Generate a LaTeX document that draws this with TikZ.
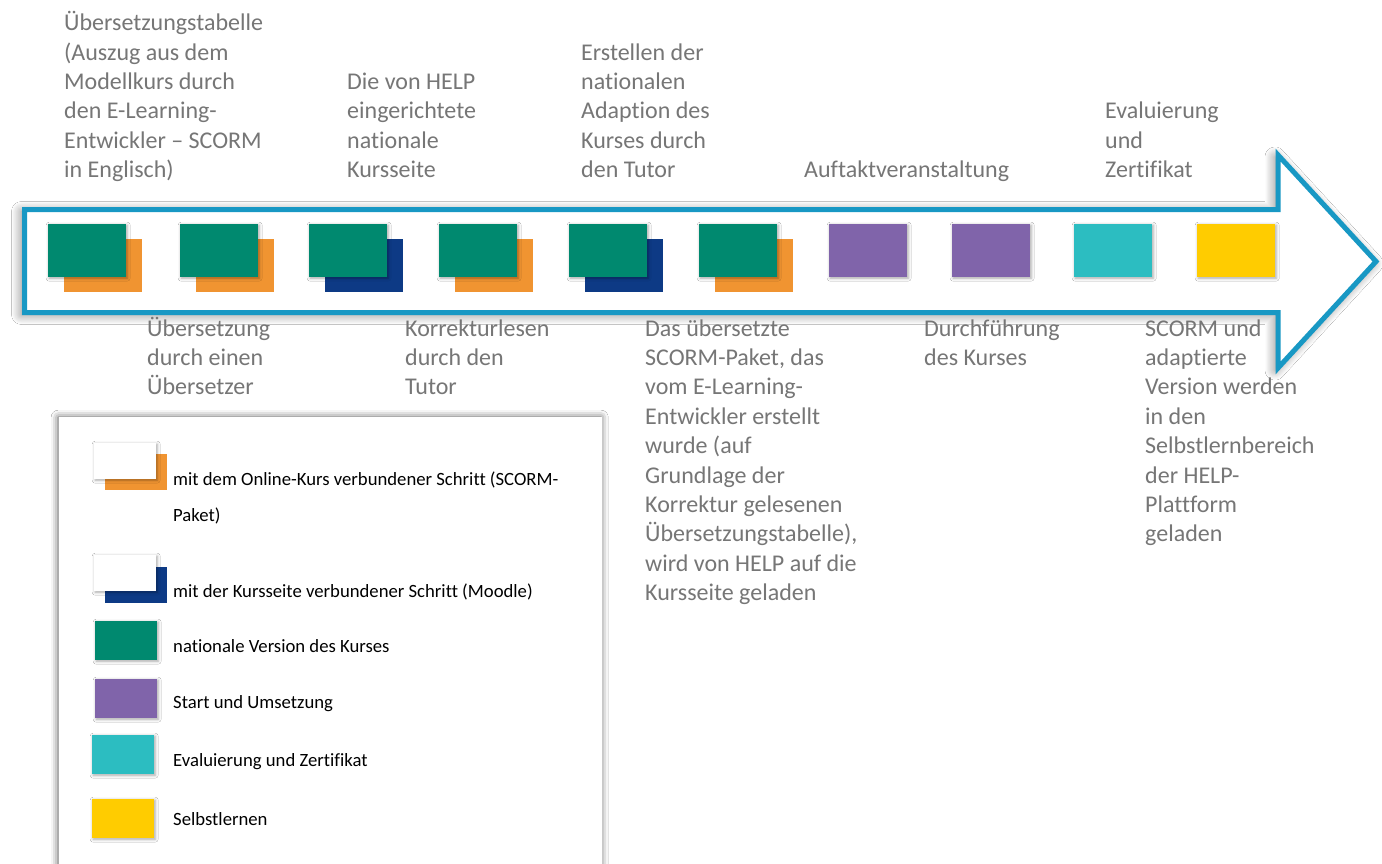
\documentclass[tikz,border=0pt]{standalone}
\usepackage{fontspec}
\setmainfont{Carlito}[Ligatures={TeX,NoCommon}]
\usetikzlibrary{shadows.blur}

\definecolor{stepgreen}{RGB}{0,137,111}
\definecolor{steporange}{RGB}{240,148,49}
\definecolor{stepblue}{RGB}{13,58,133}
\definecolor{steppurple}{RGB}{128,100,170}
\definecolor{stepcyan}{RGB}{44,189,193}
\definecolor{stepyellow}{RGB}{255,204,0}
\definecolor{arrowblue}{RGB}{24,152,196}
\definecolor{txtgray}{RGB}{118,118,118}

\begin{document}
\begin{tikzpicture}[x=1pt,y=-1pt,
  lbl/.style={text=txtgray, font=\fontsize{24}{29.4}\selectfont, align=left, inner sep=0pt},
  leg/.style={text=black, font=\fontsize{18.7}{36}\selectfont, align=left, inner sep=0pt, anchor=base west},
  card/.style={minimum width=78pt, minimum height=53pt, inner sep=0pt, anchor=north west, draw=none},
  swatch/.style={minimum width=62pt, minimum height=36pt, inner sep=0pt, anchor=north west, draw=none},
  glow/.style={blur shadow={shadow xshift=1pt, shadow yshift=-1pt, shadow blur radius=3pt, shadow opacity=35}},
]
% page area
\fill[white] (0,0) rectangle (1382,864);
\useasboundingbox (0,0) rectangle (1382,864);

% timeline arrow
\draw[line width=5pt, draw=arrowblue, fill=white, line join=miter,
      blur shadow={shadow xshift=-3pt, shadow yshift=-2pt, shadow blur radius=10pt, shadow blur steps=12, shadow opacity=50}]
  (24.5,209.5) -- (1278,209.5) -- (1278,155) -- (1376,261.5) -- (1278,368)
  -- (1278,312.5) -- (24.5,312.5) -- cycle;

% steps of the national version (with their SCORM / Moodle layer behind)
\foreach \x/\c [count=\i] in {48/steporange,180/steporange,309/stepblue,439/steporange,569/stepblue,699/steporange}{
  \node[card, fill=\c] (back\i) at (\x+16,239) {};
  \node[card, fill=stepgreen, glow] (front\i) at (\x,224) {};
}
\node[card, fill=steppurple, glow] (front7) at (829,224) {};
\node[card, fill=steppurple, glow] (front8) at (952,224) {};
\node[card, fill=stepcyan, glow] (front9) at (1074,224) {};
\node[card, fill=stepyellow, glow] (front10) at (1197,224) {};

% labels above the arrow
\node[lbl, anchor=south west] (top1) at (64,186.8)
  {Übersetzungstabelle\\(Auszug aus dem\\Modellkurs durch\\den E-Learning-\\Entwickler – SCORM\\in Englisch)\strut};
\node[lbl, anchor=south west] (top2) at (347,186.8)
  {Die von HELP\\eingerichtete\\nationale\\Kursseite\strut};
\node[lbl, anchor=south west] (top3) at (581,186.8)
  {Erstellen der\\nationalen\\Adaption des\\Kurses durch\\den Tutor\strut};
\node[lbl, anchor=south west] (top4) at (804,186.8)
  {Auftaktveranstaltung\strut};
\node[lbl, anchor=south west] (top5) at (1105,186.8)
  {Evaluierung\\und\\Zertifikat\strut};

% labels below the arrow
\node[lbl, anchor=north west] (bot1) at (147,315.4)
  {\strut Übersetzung\\durch einen\\Übersetzer};
\node[lbl, anchor=north west] (bot2) at (405,315.4)
  {\strut Korrekturlesen\\durch den\\Tutor};
\node[lbl, anchor=north west] (bot3) at (645,315.4)
  {\strut Das übersetzte\\SCORM-Paket, das\\vom E-Learning-\\Entwickler erstellt\\wurde (auf\\Grundlage der\\Korrektur gelesenen\\Übersetzungstabelle),\\wird von HELP auf die\\Kursseite geladen};
\node[lbl, anchor=north west] (bot4) at (924,315.4)
  {\strut Durchführung\\des Kurses};
\node[lbl, anchor=north west] (bot5) at (1145,315.4)
  {\strut SCORM und\\adaptierte\\Version werden\\in den\\Selbstlernbereich\\der HELP-\\Plattform\\geladen};

% legend
\node[fill=white, draw=none, minimum width=543pt, minimum height=470pt, inner sep=0pt, anchor=north west,
      blur shadow={shadow xshift=-1pt, shadow yshift=0pt, shadow blur radius=7pt, shadow opacity=65}]
  (legend) at (59,417) {};

\node[swatch, fill=steporange] (lgback1) at (105,454) {};
\node[swatch, fill=white, glow] (lgfront1) at (94,443) {};
\node[swatch, fill=stepblue] (lgback2) at (105,567) {};
\node[swatch, fill=white, glow] (lgfront2) at (94,555) {};
\node[swatch, minimum height=39pt, fill=stepgreen, glow] (lg3) at (95,621) {};
\node[swatch, minimum height=39pt, fill=steppurple, glow] (lg4) at (95,679) {};
\node[swatch, minimum height=39pt, fill=stepcyan, glow] (lg5) at (92,735) {};
\node[swatch, minimum height=39pt, fill=stepyellow, glow] (lg6) at (92,799) {};

\node[leg, anchor=north west] (lt1) at (173,459.8)
  {\strut mit dem Online-Kurs verbundener Schritt (SCORM-\\Paket)};
\node[leg] (lt2) at (173,597) {mit der Kursseite verbundener Schritt (Moodle)};
\node[leg] (lt3) at (173,652) {nationale Version des Kurses};
\node[leg] (lt4) at (173,708) {Start und Umsetzung};
\node[leg] (lt5) at (173,766) {Evaluierung und Zertifikat};
\node[leg] (lt6) at (173,825) {Selbstlernen};
\end{tikzpicture}
\end{document}
